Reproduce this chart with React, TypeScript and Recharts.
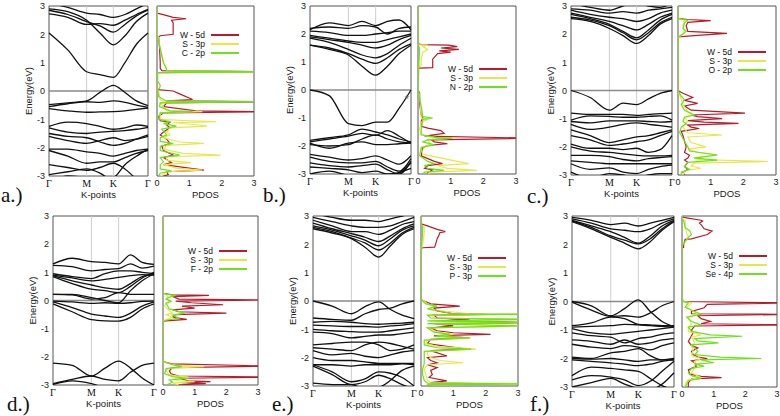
import React from "react";
import {
  LineChart,
  Line,
  XAxis,
  YAxis,
  ReferenceLine,
  ReferenceArea,
  ReferenceDot,
  Legend,
} from "recharts";

// k-path sample points (Γ - M - K - Γ) and high-symmetry ticks
const kPts = [0, 0.19, 0.38, 0.515, 0.65, 0.767, 0.883, 1];
const kTicks = [0, 0.38, 0.65, 1];
const kNames = ["Γ", "M", "K", "Γ"];
const eTicks = [-3, -2, -1, 0, 1, 2, 3];
const pdosTicks = [0, 1, 2, 3];

// band energies (eV) at each kPts entry
const bandsA = [
  [2.05, 1.45, 0.68, 0.58, 0.48, 1.0, 1.65, 2.05],
  [2.9, 2.8, 2.5, 2.05, 1.63, 1.95, 2.45, 2.75],
  [2.85, 2.7, 2.45, 2.3, 2.08, 2.35, 2.65, 2.85],
  [2.72, 2.6, 2.35, 2.38, 2.32, 2.5, 2.7, 2.88],
  [3.1, 2.95, 2.75, 2.7, 2.6, 2.7, 2.9, 3.1],
  [-0.48, -0.42, -0.35, -0.05, 0.2, -0.05, -0.35, -0.52],
  [-0.55, -0.45, -0.38, -0.4, -0.35, -0.4, -0.5, -0.58],
  [-0.62, -0.7, -0.75, -0.74, -0.73, -0.7, -0.65, -0.6],
  [-1.25, -1.1, -1.15, -1.25, -1.35, -1.3, -1.2, -1.25],
  [-1.3, -1.45, -1.5, -1.45, -1.42, -1.4, -1.35, -1.28],
  [-1.5, -1.6, -1.65, -1.8, -1.92, -1.85, -1.7, -1.55],
  [-1.6, -1.75, -1.85, -1.75, -1.65, -1.75, -1.7, -1.6],
  [-2.05, -2.05, -2.15, -2.2, -2.3, -2.2, -2.1, -2.05],
  [-2.1, -2.3, -2.55, -2.5, -2.5, -2.35, -2.2, -2.1],
  [-2.6, -2.7, -2.8, -2.7, -2.55, -2.75, -3.1, -3.3],
  [-3.2, -3.0, -3.05, -3.1, -3.05, -2.6, -2.3, -2.05],
  [-2.95, -2.85, -2.75, -2.9, -3.2, -3.3, -3.3, -3.3],
];

const bandsB = [
  [0, -0.2, -1.2, -1.27, -1.15, -1.15, -0.65, 0],
  [-1.8, -1.7, -1.6, -1.4, -1.5, -1.6, -1.75, -1.85],
  [-1.85, -1.75, -1.65, -1.55, -1.62, -1.45, -1.65, -1.9],
  [-1.9, -2.08, -1.9, -1.85, -1.95, -1.95, -1.92, -1.9],
  [-1.95, -2.0, -1.95, -1.75, -1.6, -1.75, -1.85, -1.88],
  [-2.3, -2.4, -2.5, -2.45, -2.35, -2.5, -2.65, -2.35],
  [-2.4, -2.55, -2.6, -2.6, -2.55, -2.75, -2.9, -2.45],
  [-2.6, -2.7, -2.75, -2.7, -2.65, -2.85, -3.0, -2.55],
  [-2.75, -2.8, -2.85, -2.95, -2.9, -3.0, -2.95, -2.6],
  [-3.0, -2.9, -3.05, -3.1, -3.1, -3.1, -2.95, -2.8],
  [1.6, 1.45, 1.25, 0.85, 0.53, 0.85, 1.3, 1.6],
  [1.6, 1.5, 1.3, 1.1, 0.95, 1.15, 1.45, 1.65],
  [1.85, 1.7, 1.45, 1.25, 1.15, 1.3, 1.6, 1.85],
  [1.9, 1.8, 1.7, 1.6, 1.5, 1.6, 1.8, 1.95],
  [1.95, 1.85, 1.75, 1.7, 1.7, 1.8, 1.9, 2.0],
  [2.1, 2.05, 1.95, 1.95, 2.0, 2.05, 2.1, 2.1],
  [2.15, 2.4, 2.3, 2.45, 2.3, 2.45, 2.5, 2.15],
  [2.2, 2.25, 2.2, 2.3, 2.25, 2.0, 2.2, 2.25],
];

const bandsC = [
  [0, -0.25, -0.7, -0.45, -0.5, -0.3, -0.1, 0],
  [-0.8, -0.85, -0.85, -0.85, -0.88, -0.85, -0.82, -0.8],
  [-1.05, -0.9, -0.92, -0.95, -0.95, -0.92, -0.9, -1.05],
  [-1.1, -1.15, -1.08, -1.08, -1.08, -1.1, -1.12, -1.1],
  [-1.2, -1.38, -1.3, -1.2, -1.15, -1.2, -1.25, -1.3],
  [-1.4, -1.6, -1.85, -1.75, -1.65, -1.6, -1.5, -1.4],
  [-1.6, -1.75, -1.95, -1.9, -1.82, -1.75, -1.6, -1.45],
  [-1.9, -2.05, -2.05, -2.1, -2.05, -2.2, -2.1, -1.6],
  [-2.0, -2.15, -2.2, -2.25, -2.3, -2.32, -2.32, -2.3],
  [-2.3, -2.3, -2.35, -2.45, -2.5, -2.42, -2.38, -2.35],
  [-2.5, -2.55, -2.6, -2.6, -2.6, -2.6, -2.6, -2.6],
  [-2.6, -2.8, -2.75, -2.9, -2.95, -2.8, -2.7, -2.65],
  [-2.9, -3.1, -2.95, -3.0, -3.1, -3.0, -2.95, -2.95],
  [2.55, 2.45, 2.2, 1.95, 1.67, 1.95, 2.35, 2.55],
  [2.6, 2.5, 2.3, 2.05, 1.8, 2.05, 2.4, 2.6],
  [2.7, 2.55, 2.35, 2.1, 1.87, 2.15, 2.5, 2.7],
  [2.75, 2.6, 2.45, 2.3, 2.15, 2.35, 2.6, 2.75],
  [2.85, 2.7, 2.6, 2.55, 2.45, 2.55, 2.75, 2.85],
  [2.9, 2.85, 2.75, 2.8, 2.75, 2.85, 2.9, 2.95],
  [3.1, 2.95, 2.85, 3.0, 3.1, 3.0, 2.95, 3.1],
];

const bandsD = [
  [-2.22, -2.3, -2.68, -2.4, -2.15, -2.4, -2.75, -3.0],
  [-2.95, -2.8, -2.68, -2.8, -2.85, -2.55, -2.3, -2.22],
  [-2.98, -2.85, -2.95, -3.1, -3.2, -3.2, -3.1, -3.05],
  [-0.02, -0.05, -0.1, -0.08, -0.1, -0.08, -0.03, -0.02],
  [-0.05, -0.25, -0.48, -0.55, -0.6, -0.45, -0.2, -0.05],
  [-0.12, -0.4, -0.68, -0.72, -0.73, -0.6, -0.3, -0.12],
  [0.22, 0.22, 0.1, 0.0, -0.08, 0.35, 0.7, 0.95],
  [0.22, 0.2, 0.05, 0.1, 0.28, 0.22, 0.22, 0.22],
  [1.3, 1.5, 1.38, 1.35, 1.3, 1.62, 1.35, 1.28],
  [1.25, 1.2, 1.05, 1.1, 1.13, 1.3, 1.15, 1.22],
  [0.95, 0.85, 0.78, 0.95, 1.05, 1.05, 1.0, 0.95],
  [0.9, 0.8, 0.7, 0.75, 0.82, 0.88, 0.92, 0.9],
  [0.88, 0.7, 0.55, 0.45, 0.4, 0.6, 0.85, 0.92],
  [0.85, 0.6, 0.4, 0.35, 0.28, 0.5, 0.8, 1.0],
];

const bandsE = [
  [2.55, 2.4, 2.2, 1.9, 1.55, 1.95, 2.35, 2.55],
  [2.6, 2.45, 2.22, 2.05, 1.8, 2.05, 2.4, 2.6],
  [2.65, 2.5, 2.3, 2.15, 1.95, 2.2, 2.5, 2.65],
  [2.75, 2.55, 2.38, 2.25, 2.1, 2.3, 2.55, 2.72],
  [2.85, 2.65, 2.45, 2.45, 2.35, 2.5, 2.7, 2.8],
  [2.95, 2.8, 2.65, 2.6, 2.6, 2.65, 2.8, 2.95],
  [3.1, 2.95, 2.85, 2.85, 2.8, 2.9, 3.0, 3.1],
  [0, -0.18, -0.45, -0.2, -0.03, -0.3, -0.5, -0.62],
  [-0.6, -0.65, -0.68, -0.45, -0.3, -0.25, -0.1, 0],
  [-0.75, -0.72, -0.75, -0.8, -0.82, -0.8, -0.78, -0.75],
  [-0.85, -0.88, -0.9, -0.9, -0.92, -0.88, -0.85, -0.8],
  [-1.0, -1.05, -1.08, -1.1, -1.1, -1.05, -1.0, -0.95],
  [-1.1, -1.15, -1.3, -1.25, -1.2, -1.2, -1.15, -1.1],
  [-1.55, -1.5, -1.45, -1.45, -1.55, -1.75, -1.7, -1.55],
  [-1.65, -1.7, -1.75, -1.55, -1.45, -1.5, -1.6, -1.7],
  [-1.75, -1.9, -1.85, -1.95, -2.0, -1.9, -1.8, -1.75],
  [-2.0, -2.1, -2.1, -2.15, -2.2, -2.2, -2.2, -2.2],
  [-2.25, -2.25, -2.3, -2.25, -2.25, -2.25, -2.22, -2.25],
  [-2.25, -2.5, -2.85, -2.75, -2.5, -2.55, -2.7, -3.0],
  [-2.3, -2.6, -2.95, -2.85, -2.62, -2.75, -2.95, -3.1],
  [-2.9, -2.95, -2.95, -3.1, -3.05, -2.8, -2.45, -2.3],
];

const bandsF = [
  [2.8, 2.55, 2.25, 2.05, 1.85, 2.1, 2.5, 2.8],
  [2.82, 2.6, 2.3, 2.15, 2.02, 2.2, 2.55, 2.82],
  [2.85, 2.65, 2.45, 2.25, 2.05, 2.3, 2.65, 2.85],
  [2.9, 2.75, 2.55, 2.5, 2.45, 2.55, 2.75, 2.9],
  [2.95, 2.85, 2.7, 2.75, 2.65, 2.75, 2.85, 2.95],
  [0, -0.15, -0.5, -0.25, 0.06, -0.35, -0.7, -0.88],
  [-0.02, -0.3, -0.52, -0.5, -0.55, -0.4, -0.15, 0],
  [-0.85, -0.75, -0.55, -0.6, -0.8, -0.82, -0.85, -0.85],
  [-0.9, -0.87, -0.85, -0.8, -0.82, -0.85, -0.87, -0.9],
  [-0.95, -1.1, -1.15, -1.1, -1.05, -1.0, -0.95, -0.9],
  [-1.1, -1.2, -1.25, -1.45, -1.3, -1.25, -1.15, -1.1],
  [-1.35, -1.4, -1.5, -1.35, -1.5, -1.45, -1.35, -1.3],
  [-1.5, -1.6, -1.65, -1.55, -1.6, -1.7, -1.55, -1.45],
  [-1.95, -2.0, -1.8, -1.75, -1.65, -1.9, -2.05, -2.0],
  [-2.0, -2.02, -2.0, -2.05, -2.1, -2.05, -2.05, -2.05],
  [-2.05, -2.1, -2.15, -2.2, -2.25, -2.2, -2.1, -2.05],
  [-2.6, -2.3, -2.35, -2.4, -2.45, -2.7, -2.95, -3.1],
  [-2.75, -2.6, -2.65, -2.75, -2.95, -2.8, -2.45, -2.1],
  [-3.0, -2.85, -2.7, -2.9, -3.05, -3.1, -2.9, -2.5],
];

// PDOS curves: [energy (eV), states]
const pdosAW = [[3,0],[2.75,0],[2.68,0.25],[2.6,0.5],[2.55,0.9],[2.5,0.45],[2.4,0.5],[2.0,0.5],[1.95,0.1],[1.9,0.05],[1.5,0.08],[1.0,0.1],[0.8,0.1],[0.72,0.15],[0.68,3.5],[0.65,0],[0.05,0],[0.0,0.5],[-0.1,0.7],[-0.3,1.1],[-0.35,0.3],[-0.38,3.5],[-0.42,0.3],[-0.55,0.2],[-0.7,1.2],[-0.73,3.5],[-0.77,0.2],[-0.9,0.05],[-1.05,0.1],[-1.1,0.4],[-1.2,0.3],[-1.3,0.4],[-1.45,0.2],[-1.55,0.1],[-1.7,0.3],[-1.85,0.4],[-1.95,0.15],[-2.1,0.2],[-2.26,0.5],[-2.35,0.2],[-2.53,0.45],[-2.6,0.2],[-2.79,1.45],[-2.85,0.3],[-2.95,0.35],[-3,0.2]];
const pdosAS = [[3,0],[2.1,0],[2.0,0.02],[1.5,0.1],[1.0,0.2],[0.8,0.3],[0.72,0.3],[0.68,3.5],[0.65,0],[0.05,0],[0.0,0.05],[-0.3,0.1],[-0.36,0.2],[-0.38,2.4],[-0.42,0.1],[-0.7,0.3],[-0.73,1.4],[-0.77,0.1],[-1.0,0.1],[-1.05,1.0],[-1.08,1.83],[-1.12,0.5],[-1.2,1.3],[-1.24,1.55],[-1.3,0.4],[-1.45,0.3],[-1.55,0.4],[-1.65,0.2],[-1.8,0.7],[-1.85,1.45],[-1.92,0.3],[-2.05,0.2],[-2.2,0.8],[-2.26,1.97],[-2.32,0.3],[-2.45,0.3],[-2.53,1.05],[-2.6,0.2],[-2.72,0.6],[-2.79,1.4],[-2.85,0.3],[-2.95,0.2],[-3,0.1]];
const pdosAX = [[3,0],[2.0,0],[1.5,0.1],[1.0,0.2],[0.8,0.28],[0.72,0.3],[0.68,3.5],[0.65,0.02],[0.35,0.02],[0.3,0.05],[0.2,0.1],[0.1,0.08],[0.05,0.02],[0.0,0.03],[-0.2,0.05],[-0.36,0.3],[-0.38,3.5],[-0.42,0.1],[-0.55,0.08],[-0.7,0.4],[-0.73,1.1],[-0.77,0.1],[-1.0,0.05],[-1.08,0.4],[-1.15,0.2],[-1.24,0.6],[-1.35,0.15],[-1.55,0.3],[-1.65,0.1],[-1.78,0.1],[-1.85,0.5],[-1.95,0.1],[-2.1,0.1],[-2.26,0.7],[-2.35,0.1],[-2.5,0.2],[-2.6,0.1],[-2.75,0.1],[-2.82,0.45],[-2.9,0.1],[-3,0.05]];

const pdosBW = [[3,0],[1.65,0],[1.62,0.1],[1.6,0.95],[1.55,1.2],[1.5,0.7],[1.45,1.25],[1.4,0.65],[1.35,1.0],[1.3,0.6],[1.1,0.45],[0.8,0.45],[0.78,0.05],[0.75,0],[0.0,0],[-0.1,0.05],[-0.5,0.05],[-0.9,0.1],[-1.0,0.15],[-1.1,0.1],[-1.3,0.1],[-1.36,0.3],[-1.45,0.7],[-1.55,0.8],[-1.65,0.2],[-1.72,3.5],[-1.78,0.4],[-1.85,0.5],[-1.92,0.9],[-1.98,0.3],[-2.05,0.15],[-2.35,0.1],[-2.45,0.3],[-2.55,0.5],[-2.63,0.75],[-2.7,0.3],[-2.8,0.2],[-2.85,0.45],[-2.95,0.3],[-3,0.3]];
const pdosBS = [[3,0],[1.62,0],[1.6,0.3],[1.55,0.15],[1.45,0.3],[1.35,0.15],[1.1,0.1],[0.9,0.1],[0.8,0.02],[0.0,0],[-0.2,0.05],[-1.0,0.1],[-1.05,0.3],[-1.15,0.1],[-1.4,0.05],[-1.6,0.1],[-1.7,0.5],[-1.72,1.1],[-1.78,0.3],[-1.95,0.4],[-2.05,0.1],[-2.3,0.15],[-2.45,0.8],[-2.55,1.2],[-2.63,1.55],[-2.7,0.6],[-2.8,0.9],[-2.87,1.8],[-2.93,0.4],[-3,0.3]];
const pdosBX = [[3,0],[1.6,0],[1.5,0.05],[1.0,0.03],[0.0,0],[-0.1,0.02],[-0.3,0.05],[-0.6,0.1],[-0.95,0.15],[-1.0,0.45],[-1.05,0.15],[-1.4,0.1],[-1.6,0.1],[-1.7,0.6],[-1.72,1.05],[-1.78,0.3],[-1.85,0.15],[-1.96,0.5],[-2.05,0.1],[-2.35,0.05],[-2.55,0.3],[-2.63,0.5],[-2.7,0.2],[-2.8,0.3],[-2.87,0.8],[-2.93,0.2],[-3,0.15]];

const pdosCW = [[3,0],[2.56,0],[2.52,0.3],[2.48,1.0],[2.42,0.3],[2.3,0.25],[2.1,0.3],[2.03,1.5],[1.96,0.6],[1.92,0.2],[1.9,0],[0.0,0],[-0.1,0.15],[-0.25,0.45],[-0.35,0.2],[-0.46,0.6],[-0.55,0.2],[-0.7,0.4],[-0.8,2.05],[-0.87,0.4],[-0.93,0.6],[-1.0,1.35],[-1.07,0.3],[-1.12,0.8],[-1.17,1.85],[-1.23,0.3],[-1.3,0.4],[-1.35,0.65],[-1.45,0.1],[-1.6,0.15],[-1.8,0.2],[-2.0,0.25],[-2.2,0.2],[-2.3,0.35],[-2.4,0.3],[-2.47,0.2],[-2.55,0.3],[-2.7,0.2],[-2.8,0.3],[-2.9,0.15],[-3,0.2]];
const pdosCS = [[3,0],[2.55,0],[2.5,0.2],[2.3,0.15],[2.1,0.2],[1.95,0.1],[1.9,0],[0.0,0],[-0.3,0.1],[-0.5,0.15],[-0.75,0.3],[-0.85,0.45],[-0.95,0.2],[-1.1,0.3],[-1.3,0.15],[-1.5,0.3],[-1.58,1.35],[-1.65,0.3],[-1.85,0.4],[-2.0,0.85],[-2.08,0.3],[-2.2,0.6],[-2.29,1.2],[-2.38,0.5],[-2.45,0.6],[-2.52,2.75],[-2.58,0.5],[-2.68,0.4],[-2.76,0.7],[-2.85,0.2],[-3,0.15]];
const pdosCX = [[3,0],[2.55,0],[2.5,0.3],[2.4,0.2],[2.2,0.15],[2.1,0.25],[2.0,0.15],[1.9,0],[0.0,0],[-0.2,0.1],[-0.33,0.2],[-0.5,0.1],[-0.7,0.2],[-0.87,0.5],[-0.95,0.2],[-1.1,0.15],[-1.17,0.25],[-1.3,0.1],[-1.5,0.05],[-1.6,0.1],[-1.8,0.2],[-2.0,0.3],[-2.15,0.35],[-2.29,1.2],[-2.4,0.5],[-2.47,1.2],[-2.55,0.3],[-2.7,0.2],[-2.8,0.35],[-2.9,0.1],[-3,0.1]];

const pdosDW = [[3,0],[0.25,0],[0.2,0.3],[0.18,1.45],[0.14,0.3],[0.05,0.5],[0.02,3.5],[-0.02,0.4],[-0.08,0.9],[-0.15,1.9],[-0.2,0.6],[-0.27,1.0],[-0.33,0.3],[-0.4,0.5],[-0.45,2.0],[-0.5,0.4],[-0.6,0.3],[-0.67,0.75],[-0.72,0.1],[-0.75,0],[-2.15,0],[-2.2,0.1],[-2.25,0.3],[-2.33,3.5],[-2.38,0.3],[-2.5,0.2],[-2.6,0.25],[-2.68,0.5],[-2.72,3.5],[-2.76,0.5],[-2.85,0.8],[-2.88,1.5],[-2.92,0.6],[-2.95,1.35],[-3,0.4]];
const pdosDS = [[3,0],[0.25,0],[0.2,0.1],[0.15,0.15],[0.05,0.1],[0.0,0.25],[-0.1,0.1],[-0.2,0.05],[-0.3,0.15],[-0.45,0.3],[-0.5,0.1],[-0.6,0.3],[-0.7,0.05],[-0.75,0],[-2.15,0],[-2.2,0.05],[-2.3,0.4],[-2.35,1.3],[-2.4,0.2],[-2.5,0.1],[-2.65,0.2],[-2.72,0.8],[-2.78,0.3],[-2.85,0.5],[-2.88,1.0],[-2.93,0.3],[-3,0.5]];
const pdosDX = [[3,0],[0.25,0],[0.22,0.15],[0.18,0.4],[0.12,0.2],[0.05,0.1],[-0.03,0.25],[-0.1,0.1],[-0.3,0.2],[-0.45,0.7],[-0.52,0.3],[-0.63,0.5],[-0.7,0.1],[-0.75,0],[-2.15,0],[-2.2,0.1],[-2.28,0.3],[-2.35,0.6],[-2.42,0.1],[-2.6,0.05],[-2.7,0.3],[-2.77,0.8],[-2.82,0.2],[-2.9,0.3],[-3,0.1]];

const pdosEW = [[3,0],[2.72,0],[2.65,0.2],[2.53,0.5],[2.45,0.75],[2.41,0.58],[2.3,0.55],[2.2,0.5],[2.0,0.45],[1.9,0.42],[1.88,0.05],[1.85,0],[0.05,0],[0.0,0.1],[-0.1,0.3],[-0.18,1.2],[-0.25,0.4],[-0.35,0.5],[-0.45,1.0],[-0.47,2.0],[-0.5,0.4],[-0.6,0.5],[-0.65,1.5],[-0.7,0.5],[-0.76,3.5],[-0.8,0.4],[-0.88,1.0],[-0.95,0.3],[-1.05,0.5],[-1.12,1.0],[-1.18,2.15],[-1.22,0.4],[-1.3,1.5],[-1.35,0.3],[-1.5,0.2],[-1.7,1.4],[-1.75,0.3],[-1.94,0.8],[-2.0,0.2],[-2.1,0.3],[-2.18,0.5],[-2.25,0.2],[-2.35,0.5],[-2.45,0.3],[-2.6,0.35],[-2.7,0.25],[-2.82,0.8],[-2.88,0.3],[-2.92,2.0],[-2.95,0.3],[-3,0.2]];
const pdosES = [[3,0],[2.7,0],[2.6,0.1],[2.4,0.1],[2.0,0.05],[1.88,0.02],[1.85,0],[0.05,0],[0.0,0.1],[-0.1,0.2],[-0.18,0.4],[-0.3,0.3],[-0.45,1.5],[-0.47,3.5],[-0.5,0.3],[-0.6,0.4],[-0.65,3.5],[-0.7,0.3],[-0.76,2.5],[-0.8,0.3],[-0.88,3.5],[-0.95,0.2],[-1.1,0.5],[-1.18,1.0],[-1.25,0.5],[-1.3,1.55],[-1.38,0.2],[-1.5,0.15],[-1.6,0.5],[-1.7,1.7],[-1.78,0.2],[-1.9,0.2],[-2.0,0.3],[-2.1,0.6],[-2.18,1.3],[-2.25,0.2],[-2.4,0.1],[-2.6,0.15],[-2.8,0.2],[-2.88,0.3],[-2.92,3.5],[-2.96,0.2],[-3,0.2]];
const pdosEX = [[3,0],[2.7,0],[2.6,0.05],[2.4,0.05],[2.0,0.02],[1.85,0],[0.05,0],[0.0,0.05],[-0.1,0.15],[-0.18,0.5],[-0.28,0.2],[-0.45,1.0],[-0.47,3.5],[-0.5,0.2],[-0.6,0.3],[-0.65,3.5],[-0.7,0.2],[-0.76,3.5],[-0.8,0.2],[-0.88,3.0],[-0.95,0.2],[-1.1,0.4],[-1.18,0.9],[-1.25,0.4],[-1.3,1.5],[-1.38,0.1],[-1.55,0.1],[-1.65,0.5],[-1.7,1.55],[-1.78,0.1],[-2.0,0.1],[-2.2,0.1],[-2.4,0.05],[-2.6,0.05],[-2.8,0.1],[-2.9,0.2],[-2.93,3.5],[-2.96,0.2],[-3,0.2]];

const pdosFW = [[3,0],[2.97,0],[2.94,0.1],[2.85,0.6],[2.82,0.65],[2.75,0.55],[2.7,0.6],[2.55,0.7],[2.47,0.95],[2.35,0.8],[2.2,0.3],[2.18,0.1],[2.0,0.05],[1.9,0.05],[1.87,0],[0.1,0],[0.0,0.05],[-0.05,3.5],[-0.1,0.8],[-0.22,0.7],[-0.35,0.3],[-0.43,0.3],[-0.45,3.5],[-0.5,0.5],[-0.6,0.6],[-0.7,0.9],[-0.78,0.6],[-0.82,3.5],[-0.86,0.4],[-1.0,0.3],[-1.1,0.35],[-1.2,0.3],[-1.4,0.2],[-1.55,0.3],[-1.63,0.5],[-1.75,0.3],[-1.86,0.35],[-1.95,0.5],[-2.0,0.8],[-2.08,0.3],[-2.15,0.4],[-2.27,0.45],[-2.4,0.2],[-2.55,0.25],[-2.63,0.6],[-2.67,1.25],[-2.72,0.3],[-2.85,0.2],[-3,0.2]];
const pdosFS = [[3,0],[2.9,0],[2.85,0.1],[2.6,0.1],[2.4,0.15],[2.25,0.2],[2.1,0.1],[2.0,0.02],[1.9,0],[0.1,0],[0.0,0.05],[-0.05,0.3],[-0.2,0.15],[-0.45,0.5],[-0.55,0.2],[-0.8,0.3],[-0.9,0.2],[-1.05,0.2],[-1.17,0.6],[-1.25,0.3],[-1.45,0.4],[-1.55,0.3],[-1.7,0.35],[-1.9,0.3],[-2.0,0.6],[-2.1,0.4],[-2.3,0.4],[-2.5,0.3],[-2.67,0.6],[-2.75,0.2],[-2.9,0.1],[-3,0.1]];
const pdosFX = [[3,0],[2.9,0],[2.85,0.05],[2.6,0.1],[2.47,0.25],[2.35,0.3],[2.25,0.2],[2.1,0.1],[2.0,0.02],[1.9,0],[0.1,0],[0.0,0.02],[-0.05,0.2],[-0.2,0.1],[-0.45,0.6],[-0.55,0.15],[-0.7,0.3],[-0.82,0.6],[-0.9,0.2],[-1.05,0.3],[-1.17,0.9],[-1.22,1.9],[-1.3,0.4],[-1.38,0.5],[-1.45,1.15],[-1.52,0.3],[-1.63,0.4],[-1.75,0.5],[-1.86,0.4],[-1.95,1.2],[-2.0,2.5],[-2.05,0.6],[-2.15,1.0],[-2.2,0.4],[-2.27,0.7],[-2.35,0.3],[-2.5,0.2],[-2.6,0.3],[-2.7,0.6],[-2.78,0.2],[-2.9,0.15],[-3,0.1]];

const sans = "'Liberation Sans', Arial, sans-serif";
const serif = "'Liberation Serif', 'DejaVu Serif', serif";
const colW = "#b51d2a";
const colS = "#e6e84a";
const colX = "#6fe01e";

const panels = [
  { tag: "a.)", lx: 1, ly: 203, bx0: 49, bx1: 148, top: 6, bottom: 176, px0: 157, px1: 254, legR: 205, legY: 35, bands: bandsA, w: pdosAW, s: pdosAS, x: pdosAX, xName: "C - 2p" },
  { tag: "b.)", lx: 263, ly: 203, bx0: 310, bx1: 411, top: 6, bottom: 174, px0: 418, px1: 516, legR: 473, legY: 69, bands: bandsB, w: pdosBW, s: pdosBS, x: pdosBX, xName: "N - 2p", star: true },
  { tag: "c.)", lx: 527, ly: 204, bx0: 571, bx1: 672, top: 6, bottom: 175, px0: 678, px1: 776, legR: 732, legY: 52, bands: bandsC, w: pdosCW, s: pdosCS, x: pdosCX, xName: "O - 2p" },
  { tag: "d.)", lx: 7, ly: 412, bx0: 53, bx1: 154, top: 216, bottom: 385, px0: 163, px1: 258, legR: 213, legY: 251, bands: bandsD, w: pdosDW, s: pdosDS, x: pdosDX, xName: "F - 2p" },
  { tag: "e.)", lx: 272, ly: 412, bx0: 313, bx1: 414, top: 216, bottom: 386, px0: 421, px1: 518, legR: 472, legY: 258, bands: bandsE, w: pdosEW, s: pdosES, x: pdosEX, xName: "P - 3p" },
  { tag: "f.)", lx: 530, ly: 412, bx0: 572, bx1: 674, top: 216, bottom: 387, px0: 682, px1: 777, legR: 733, legY: 256, bands: bandsF, w: pdosFW, s: pdosFS, x: pdosFX, xName: "Se - 4p" },
];

const tickStyle = { fontFamily: sans, fontSize: 9, fill: "#1a1a1a" };

function BandChart({ p }: { p: any }) {
  const yw = 30;
  const mt = 5;
  const mr = 4;
  const xh = 25;
  const w = p.bx1 - p.bx0 + yw + mr;
  const h = p.bottom - p.top + mt + xh;
  const rows = kPts.map((k, i) => {
    const r: any = { k };
    p.bands.forEach((b: number[], j: number) => (r["b" + j] = b[i]));
    return r;
  });
  return (
    <div style={{ position: "absolute", left: p.bx0 - yw, top: p.top - mt }}>
      <LineChart width={w} height={h} data={rows} margin={{ top: mt, right: mr, bottom: 0, left: 0 }}>
        <XAxis
          dataKey="k"
          type="number"
          domain={[0, 1]}
          ticks={kTicks}
          tickFormatter={(v) => kNames[kTicks.indexOf(v)]}
          height={xh}
          axisLine={false}
          tickLine={false}
          tickSize={0}
          tickMargin={4}
          interval={0}
          tick={{ fontFamily: serif, fontSize: 10, fill: "#111" }}
          label={{ value: "K-points", position: "insideBottom", offset: 3, style: { fontFamily: sans, fontSize: 9.5, fill: "#1a1a1a" } }}
        />
        <YAxis
          type="number"
          domain={[-3, 3]}
          ticks={eTicks}
          allowDataOverflow
          width={yw}
          axisLine={false}
          tickLine={false}
          tickSize={0}
          tickMargin={4}
          interval={0}
          tick={tickStyle}
          label={{ value: "Energy(eV)", angle: -90, position: "insideLeft", offset: 10, style: { textAnchor: "middle", fontFamily: sans, fontSize: 9.5, fill: "#1a1a1a" } }}
        />
        <ReferenceLine x={kTicks[1]} stroke="#cfcfcf" strokeWidth={1} />
        <ReferenceLine x={kTicks[2]} stroke="#cfcfcf" strokeWidth={1} />
        <ReferenceLine y={0} stroke="#8a8a8a" strokeWidth={1.6} />
        {p.bands.map((_: number[], j: number) => (
          <Line key={j} dataKey={"b" + j} type="monotone" stroke="#111" strokeWidth={1.3} dot={false} isAnimationActive={false} />
        ))}
        {p.star && (
          <ReferenceDot x={0.96} y={-0.33} r={0} label={{ value: "*", position: "center", style: { fontFamily: sans, fontSize: 10, fill: "#666" } }} />
        )}
        <ReferenceArea x1={0} x2={1} y1={-3} y2={3} fill="none" stroke="#555" strokeWidth={1} />
      </LineChart>
    </div>
  );
}

function PdosChart({ p }: { p: any }) {
  const ml = 6;
  const mt = 5;
  const mr = 4;
  const xh = 25;
  const w = p.px1 - p.px0 + ml + mr;
  const h = p.bottom - p.top + mt + xh;
  const left = p.px0 - ml;
  const top = p.top - mt;
  const order = ["W - 5d", "S - 3p", p.xName];
  const toRows = (pts: number[][]) => pts.map(([e, v]) => ({ e, v }));
  const renderLegend = (props: any) => {
    const items = order
      .map((n) => (props.payload || []).find((it: any) => it.value === n))
      .filter(Boolean);
    return (
      <div style={{ fontFamily: sans, fontSize: 8.5, color: "#111" }}>
        {items.map((it: any) => (
          <div key={it.value} style={{ display: "flex", alignItems: "center", height: 9 }}>
            <span style={{ width: 36, textAlign: "right", lineHeight: "9px" }}>{it.value}</span>
            <span style={{ width: 28, height: 2, background: it.color, marginLeft: 6 }} />
          </div>
        ))}
      </div>
    );
  };
  return (
    <div style={{ position: "absolute", left, top }}>
      <LineChart layout="vertical" width={w} height={h} margin={{ top: mt, right: mr, bottom: 0, left: ml }}>
        <XAxis
          type="number"
          domain={[0, 3]}
          ticks={pdosTicks}
          allowDataOverflow
          height={xh}
          axisLine={false}
          tickLine={false}
          tickSize={0}
          tickMargin={4}
          interval={0}
          tick={tickStyle}
          label={{ value: "PDOS", position: "insideBottom", offset: 3, style: { fontFamily: sans, fontSize: 9.5, fill: "#1a1a1a" } }}
        />
        <YAxis type="number" dataKey="e" domain={[-3, 3]} allowDataOverflow reversed hide />
        <Line data={toRows(p.w)} dataKey="v" name="W - 5d" type="linear" stroke={colW} strokeWidth={1.2} dot={false} isAnimationActive={false} />
        <Line data={toRows(p.s)} dataKey="v" name="S - 3p" type="linear" stroke={colS} strokeWidth={1.2} dot={false} isAnimationActive={false} />
        <Line data={toRows(p.x)} dataKey="v" name={p.xName} type="linear" stroke={colX} strokeWidth={1.2} dot={false} isAnimationActive={false} />
        <ReferenceArea x1={0} x2={3} y1={-3} y2={3} fill="none" stroke="#555" strokeWidth={1} />
        <Legend
          layout="vertical"
          align="center"
          verticalAlign="middle"
          content={renderLegend}
          wrapperStyle={{ position: "absolute", left: p.legR - 36 - left, top: p.legY - 4.5 - top, width: 72 }}
        />
      </LineChart>
    </div>
  );
}

export default function App() {
  return (
    <div style={{ position: "absolute", left: 0, top: 0, width: 780, height: 416, background: "#fff", overflow: "hidden" }}>
      {panels.map((p) => (
        <React.Fragment key={p.tag}>
          <BandChart p={p} />
          <PdosChart p={p} />
          <div style={{ position: "absolute", left: p.lx, top: p.ly - 17.6, fontFamily: serif, fontSize: 21, lineHeight: "21px", color: "#111" }}>
            {p.tag}
          </div>
        </React.Fragment>
      ))}
    </div>
  );
}
